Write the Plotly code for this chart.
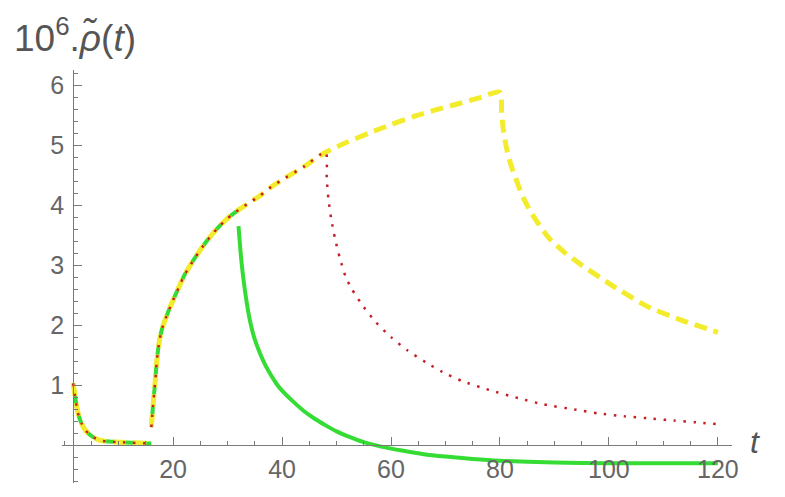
import plotly.graph_objects as go

# ---- data ----
# first decay (all three runs coincide)
t_early = [1.65, 2.0, 2.3, 2.7, 3.2, 3.8, 4.4, 5.4, 6.6, 8.2, 10.3, 12.5, 15.2, 16.0]
y_early = [1.03, 0.82, 0.64, 0.48, 0.36, 0.26, 0.2, 0.13, 0.08, 0.06, 0.05, 0.04, 0.03, 0.03]

# rise after t = 16 (shared until each run switches off)
t_rise = [16, 16.3, 16.7, 17, 17.5, 18, 19, 20, 21, 22, 24, 26, 28, 30, 32,
          34, 36, 38, 40, 44, 48, 52, 56, 60, 64, 68, 72, 76, 80]
y_rise = [0.3, 0.65, 1.05, 1.4, 1.75, 1.95, 2.2, 2.42, 2.62, 2.82, 3.12, 3.38, 3.6, 3.78, 3.92,
          4.04, 4.16, 4.3, 4.42, 4.64, 4.88, 5.05, 5.2, 5.34, 5.47, 5.58, 5.68, 5.78, 5.88]

# decays after switch-off
t_green = [32, 32.5, 33, 33.5, 34, 34.5, 35, 36, 37, 38, 39, 40, 42, 44, 46, 48, 50, 52, 55, 58,
           62, 66, 70, 75, 80, 90, 100, 110, 120]
y_green = [3.65, 3.1, 2.7, 2.38, 2.12, 1.92, 1.76, 1.52, 1.32, 1.16, 1.02, 0.91, 0.73, 0.57,
           0.44, 0.33, 0.23, 0.15, 0.05, -0.02, -0.09, -0.15, -0.19, -0.23, -0.26, -0.29, -0.3,
           -0.3, -0.3]

t_red = [48, 48.2, 48.5, 49, 49.7, 50.6, 51.7, 52.8, 55, 57.2, 60, 63, 66.4, 69.4, 73,
         78, 83.5, 88, 94, 98, 103, 107, 112, 116, 120]
y_red = [4.88, 4.44, 4.11, 3.78, 3.45, 3.12, 2.8, 2.6, 2.3, 2.05, 1.8, 1.58, 1.38, 1.22, 1.07,
         0.92, 0.78, 0.68, 0.59, 0.53, 0.48, 0.45, 0.41, 0.38, 0.35]

t_yellow = [80, 80.3, 80.6, 81.2, 82, 82.9, 84.3, 85.9, 89, 92, 95, 101.3, 107.3, 113.4, 120]
y_yellow = [5.88, 5.55, 5.27, 4.95, 4.67, 4.44, 4.12, 3.85, 3.45, 3.2, 3.0, 2.62, 2.3, 2.08, 1.88]

x_ticks = [20, 40, 60, 80, 100, 120]
y_ticks = [1, 2, 3, 4, 5, 6]


def run(t_off, t_dec, y_dec, t_dec_gap):
    # early part, gap, rise up to t_off, (optional gap), decay
    t = list(t_early) + [None]
    y = list(y_early) + [None]
    for tt, yy in zip(t_rise, y_rise):
        if tt <= t_off:
            t.append(tt)
            y.append(yy)
    if t_dec_gap:
        t.append(None)
        y.append(None)
    return t + list(t_dec), y + list(y_dec)


tg, yg = run(32, t_green, y_green, True)
tr, yr = run(48, t_red[1:], y_red[1:], False)
ty, yy = run(80, t_yellow[1:], y_yellow[1:], False)

fig = go.Figure()
fig.add_trace(go.Scatter(x=tg, y=yg, mode='lines', connectgaps=False,
                         line=dict(color='#34dc34', width=4, shape='spline', smoothing=0.6)))
fig.add_trace(go.Scatter(x=ty, y=yy, mode='lines', connectgaps=False,
                         line=dict(color='#f3ec2c', width=5, dash='13px,7px',
                                   shape='spline', smoothing=0.6)))
fig.add_trace(go.Scatter(x=tr, y=yr, mode='lines', connectgaps=False,
                         line=dict(color='#c42026', width=2.5, dash='2.5px,7.5px',
                                   shape='spline', smoothing=0.6)))

axis_col = '#7a7a7a'
label_font = dict(family='Liberation Sans, Arial', size=25, color='#666666')

x_min, x_max = -0.4, 122.6
y_min, y_max = -0.63, 6.25

# the page body adds an 8px offset, so the figure is 8px smaller on each side
fig.update_layout(
    width=777, height=489,
    margin=dict(l=54, r=53, t=62, b=14),
    plot_bgcolor='white', paper_bgcolor='white',
    showlegend=False,
    xaxis=dict(
        range=[x_min, x_max], anchor='free', automargin=False,
        position=(0 - y_min) / (y_max - y_min),
        showgrid=False, zeroline=False,
        showline=True, linecolor=axis_col, linewidth=1,
        tickmode='array', tickvals=x_ticks,
        ticks='inside', ticklen=8, tickcolor=axis_col,
        minor=dict(tickmode='linear', tick0=0, dtick=5, ticks='inside',
                   ticklen=4, tickcolor=axis_col),
        tickfont=label_font, ticklabelstandoff=2,
    ),
    yaxis=dict(
        range=[y_min, y_max], anchor='free', automargin=False,
        position=(1.65 - x_min) / (x_max - x_min),
        showgrid=False, zeroline=False,
        showline=True, linecolor=axis_col, linewidth=1,
        tickmode='array', tickvals=y_ticks,
        ticks='inside', ticklen=8, tickcolor=axis_col,
        minor=dict(tickmode='linear', tick0=0, dtick=0.2, ticks='inside',
                   ticklen=4, tickcolor=axis_col),
        tickfont=label_font, ticklabelstandoff=4,
    ),
)

# axis labels as in the original (Mathematica style)
fig.add_annotation(xref='paper', yref='paper', x=-0.075, y=1.083,
                   xanchor='left', yanchor='middle', showarrow=False,
                   text='10<sup>6</sup>.<i>\u03c1\u0303</i>(<i>t</i>)',
                   font=dict(family='Liberation Sans, Arial', size=37, color='#555555'))
fig.add_annotation(xref='paper', yref='paper', x=1.034, y=0.10,
                   xanchor='center', yanchor='middle', showarrow=False,
                   text='<i>t</i>',
                   font=dict(family='Liberation Sans, Arial', size=32, color='#555555'))

fig.write_html("out.html")
